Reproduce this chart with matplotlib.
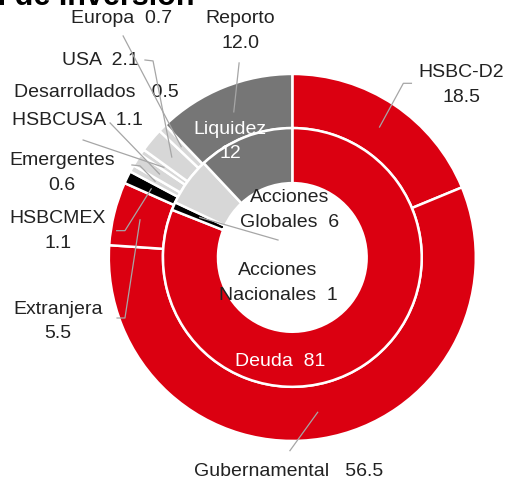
import numpy as np
import matplotlib.pyplot as plt

plt.rcParams['font.family'] = ['Liberation Sans', 'DejaVu Sans']

# anillo exterior: instrumentos (sentido horario desde las 12)
outer_names = ['HSBC-D2', 'Gubernamental', 'Extranjera', 'HSBCMEX', 'Emergentes',
               'HSBCUSA', 'Desarrollados', 'USA', 'Europa', 'Reporto']
outer_values = [18.5, 56.5, 5.5, 1.1, 0.6, 1.1, 0.5, 2.1, 0.7, 12.0]

# anillo interior: tipo de activo
inner_names = ['Deuda', 'Acciones\nNacionales', 'Acciones\nGlobales', 'Liquidez']
inner_values = [81, 1, 6, 12]

RED = '#db0011'
DARK = '#767676'
LIGHT = '#d7d7d7'
outer_colors = [RED, RED, RED, 'black', LIGHT, LIGHT, LIGHT, LIGHT, LIGHT, DARK]
inner_colors = [RED, 'black', LIGHT, DARK]

# separador entre nombre y valor, posicion del texto y quiebre de la guia
outer_sep = ['\n', '   ', '\n', '\n', '\n', '  ', '   ', '  ', '  ', '\n']
outer_text_pos = [(0.920, 0.940), (-0.018, -1.169), (-1.277, -0.349), (-1.277, 0.144),
                  (-1.255, 0.460), (-1.173, 0.749), (-1.069, 0.901), (-1.048, 1.076),
                  (-0.933, 1.300), (-0.285, 1.232)]
outer_guides = [[(0.649, 0.949), (0.605, 0.949)],
                [(-0.013, -1.053)],
                [(-0.955, -0.330), (-0.912, -0.330)],
                [(-0.957, 0.146), (-0.912, 0.146)],
                [(-0.874, 0.504), (-0.830, 0.499)],
                [(-0.993, 0.733)],
                [(-1.140, 0.640)],
                [(-0.803, 1.076), (-0.759, 1.071)],
                [(-0.922, 1.207)],
                [(-0.290, 1.060)]]

inner_sep = ['  ', '  ', '  ', '\n']
inner_text_pos = [(-0.067, -0.569), (-0.078, -0.139), (-0.016, 0.259), (-0.340, 0.632)]
inner_text_color = ['white', '#222222', '#222222', 'white']

GUIDE = '#a6a6a6'
TXT = '#222222'
SPACING = 1.6

fig = plt.figure(figsize=(5.05, 4.87), dpi=100)
ax = fig.add_axes([0, 0, 1, 1])

wedges_out, _ = ax.pie(outer_values, radius=1.0, startangle=90, counterclock=False,
                       colors=outer_colors,
                       wedgeprops=dict(width=0.295, edgecolor='white', linewidth=1.8))
wedges_in, _ = ax.pie(inner_values, radius=0.705, startangle=90, counterclock=False,
                      colors=inner_colors,
                      wedgeprops=dict(width=0.30, edgecolor='white', linewidth=1.8))


def mid_point(w, r):
    a = np.deg2rad((w.theta1 + w.theta2) / 2)
    return r * np.cos(a), r * np.sin(a)


for w, name, val, sep, pos, guide in zip(wedges_out, outer_names, outer_values,
                                         outer_sep, outer_text_pos, outer_guides):
    ax.text(pos[0], pos[1], f'{name}{sep}{val:.1f}', ha='center', va='center',
            fontsize=14, color=TXT, linespacing=SPACING)
    pts = guide + [mid_point(w, 0.855)]
    ax.plot([p[0] for p in pts], [p[1] for p in pts], color=GUIDE, lw=0.9, zorder=3)

for w, name, val, sep, pos, col in zip(wedges_in, inner_names, inner_values,
                                       inner_sep, inner_text_pos, inner_text_color):
    ax.text(pos[0], pos[1], f'{name}{sep}{val}', ha='center', va='center',
            fontsize=14, color=col, linespacing=SPACING, zorder=4)

# guia de acciones nacionales
x_end, y_end = mid_point(wedges_in[1], 0.55)
ax.plot([-0.078, x_end], [0.095, y_end], color=GUIDE, lw=0.9, zorder=3)

ax.set_xlim(-1.593, 1.159)
ax.set_ylim(-1.251, 1.403)
ax.set_aspect('auto')
ax.axis('off')

fig.text(195 / 505, 1 - 5 / 487, 'Cartera Total de Inversión', ha='right', va='baseline',
         fontsize=22, fontweight='bold', color='black')

fig.savefig('out.png', dpi=100)
